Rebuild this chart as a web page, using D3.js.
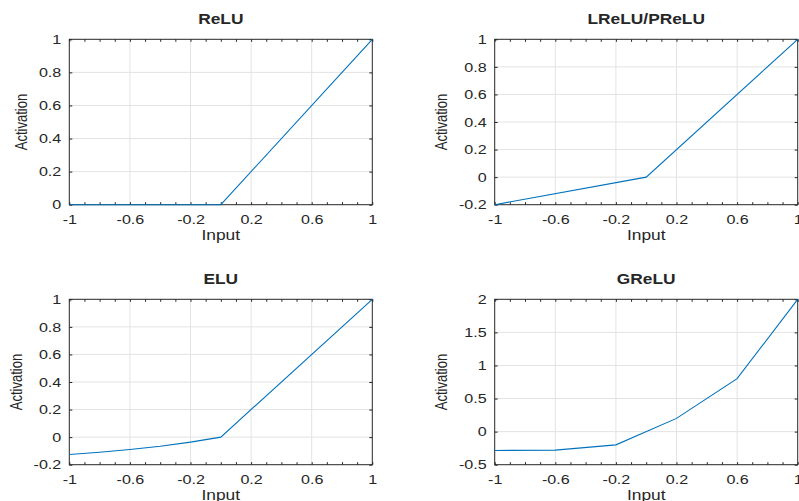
<!DOCTYPE html>
<html>
<head>
<meta charset="utf-8">
<script src="https://cdn.jsdelivr.net/npm/d3@7"></script>
<style>
  body { margin: 0; background: #fff; }
  text { font-family: "Liberation Sans", Arial, sans-serif; fill: #262626; }
</style>
</head>
<body>
<div id="chart"></div>
<script>
const width = 799;
const height = 501;
const stretch = 1.24; // the reference text is drawn wider than normal

// x axis, shared by all four panels
const xTicks = [-1, -0.6, -0.2, 0.2, 0.6, 1];
const xMinor = [-0.9, -0.8, -0.7, -0.5, -0.4, -0.3, -0.1, 0, 0.1, 0.3, 0.4, 0.5, 0.7, 0.8, 0.9];

// ReLU
const reluX = [-1, 0, 1];
const reluY = [0, 0, 1];
const reluTicks = [0, 0.2, 0.4, 0.6, 0.8, 1];

// LReLU / PReLU
const lreluX = [-1, 0, 1];
const lreluY = [-0.2, 0, 1];
const lreluTicks = [-0.2, 0, 0.2, 0.4, 0.6, 0.8, 1];

// ELU
const eluX = [-1, -0.8, -0.6, -0.4, -0.2, 0, 1];
const eluY = [-0.126, -0.110, -0.090, -0.066, -0.036, 0, 1];
const eluTicks = [-0.2, 0, 0.2, 0.4, 0.6, 0.8, 1];

// GReLU
const greluX = [-1, -0.6, -0.2, 0.2, 0.6, 1];
const greluY = [-0.285, -0.28, -0.2, 0.2, 0.8, 2];
const greluTicks = [-0.5, 0, 0.5, 1, 1.5, 2];

const panels = [
  { title: "ReLU", xs: reluX, ys: reluY, yTicks: reluTicks, left: 69.3, top: 39.3 },
  { title: "LReLU/PReLU", xs: lreluX, ys: lreluY, yTicks: lreluTicks, left: 494.7, top: 39.3 },
  { title: "ELU", xs: eluX, ys: eluY, yTicks: eluTicks, left: 69.3, top: 299.3 },
  { title: "GReLU", xs: greluX, ys: greluY, yTicks: greluTicks, left: 494.7, top: 299.3 }
];

const pw = 303;
const ph = 165.4;

let svg = d3.select("#chart")
  .append("svg")
  .attr("width", width)
  .attr("height", height)
  .attr("viewBox", [0, 0, width, height]);

panels.forEach(p => {
  let x = d3.scaleLinear().domain([-1, 1]).range([0, pw]);
  let y = d3.scaleLinear().domain(d3.extent(p.yTicks)).range([ph, 0]);

  let g = svg.append("g")
    .attr("transform", `translate(${p.left},${p.top})`);

  // grid
  g.append("g")
      .attr("stroke", "#e3e3e3")
      .attr("stroke-width", 1)
    .selectAll("line")
    .data(xTicks.slice(1, -1))
    .join("line")
      .attr("x1", d => x(d)).attr("x2", d => x(d))
      .attr("y1", 0).attr("y2", ph);
  g.append("g")
      .attr("stroke", "#e3e3e3")
      .attr("stroke-width", 1)
    .selectAll("line")
    .data(p.yTicks.slice(1, -1))
    .join("line")
      .attr("x1", 0).attr("x2", pw)
      .attr("y1", d => y(d)).attr("y2", d => y(d));

  // inward tick marks on all four sides
  const tickStyle = sel => {
    sel.select(".domain").remove();
    sel.selectAll(".tick line").attr("stroke", "#262626");
    sel.selectAll(".tick text").remove();
  };
  g.append("g").attr("transform", `translate(0,${ph})`)
    .call(d3.axisBottom(x).tickValues(xTicks.concat(xMinor)).tickSize(-2.5))
    .call(tickStyle);
  g.append("g")
    .call(d3.axisTop(x).tickValues(xTicks.concat(xMinor)).tickSize(-2.5))
    .call(tickStyle);
  g.append("g")
    .call(d3.axisLeft(y).tickValues(p.yTicks).tickSize(-3))
    .call(tickStyle);
  g.append("g").attr("transform", `translate(${pw},0)`)
    .call(d3.axisRight(y).tickValues(p.yTicks).tickSize(-3))
    .call(tickStyle);

  // tick labels
  let xa = g.append("g").attr("transform", `translate(0,${ph})`)
    .call(d3.axisBottom(x).tickValues(xTicks).tickSize(0).tickPadding(10).tickFormat(d => String(d)));
  xa.select(".domain").remove();
  xa.selectAll("text")
    .attr("font-family", null)
    .attr("font-size", 13)
    .attr("fill", "#262626")
    .attr("transform", `scale(${stretch},1)`);

  let ya = g.append("g")
    .call(d3.axisLeft(y).tickValues(p.yTicks).tickSize(0).tickPadding(8).tickFormat(d => String(d)));
  ya.select(".domain").remove();
  ya.selectAll("text")
    .attr("font-family", null)
    .attr("font-size", 13)
    .attr("fill", "#262626")
    .attr("x", -8 / stretch)
    .attr("transform", `scale(${stretch},1)`);

  let maxW = stretch * d3.max(ya.selectAll("text").nodes(), n => n.getComputedTextLength());

  // frame
  g.append("rect")
    .attr("x", 0).attr("y", 0)
    .attr("width", pw).attr("height", ph)
    .attr("fill", "none")
    .attr("stroke", "#262626")
    .attr("stroke-width", 1);

  // series
  let line = d3.line()
    .x((d, i) => x(p.xs[i]))
    .y(d => y(d));
  g.append("path")
    .datum(p.ys)
    .attr("fill", "none")
    .attr("stroke", "#0072BD")
    .attr("stroke-width", 1.1)
    .attr("d", line);

  // titles and labels
  g.append("text")
    .attr("transform", `translate(${pw / 2},-15.5) scale(${stretch},1)`)
    .attr("text-anchor", "middle")
    .attr("font-size", 14)
    .attr("font-weight", "bold")
    .attr("fill", "#000")
    .text(p.title);

  g.append("text")
    .attr("transform", `translate(${pw / 2},${ph + 35}) scale(${stretch},1)`)
    .attr("text-anchor", "middle")
    .attr("font-size", 14)
    .text("Input");

  g.append("text")
    .attr("transform", `translate(${-(8 + maxW + 11.5)},${ph / 2}) rotate(-90) scale(1,${stretch})`)
    .attr("text-anchor", "middle")
    .attr("font-size", 13)
    .text("Activation");
});
</script>
</body>
</html>
